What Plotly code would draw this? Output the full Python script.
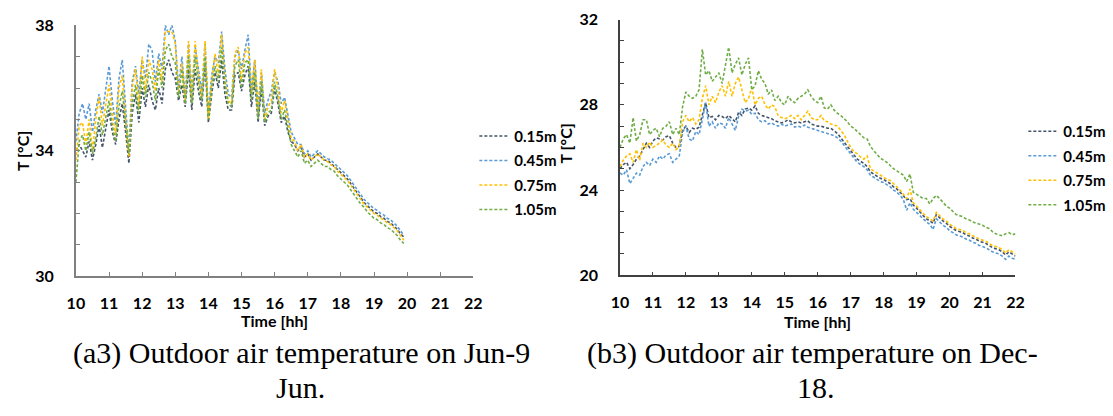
import numpy as np
import plotly.graph_objects as go

W, H = 1113, 416

# ---------------- data ----------------
heights = ["0.15m", "0.45m", "0.75m", "1.05m"]
colors = ["#44546A", "#5B9BD5", "#FFC000", "#70AD47"]

time_a = np.round(10 + 0.1 * np.arange(100), 1)   # 10.0 .. 19.9 h
time_b = np.round(10 + 0.1 * np.arange(121), 1)   # 10.0 .. 22.0 h

# (a3) June
t015_a = [34.0, 34.2, 34.0, 33.8, 34.3, 33.7, 34.2, 34.8, 34.1, 34.7,
          35.3, 34.6, 34.2, 35.0, 35.5, 34.6, 33.6, 35.2, 35.8, 34.9,
          36.0, 35.4, 36.1, 35.6, 35.3, 36.0, 35.5, 36.6, 36.9, 36.5,
          36.3, 35.6, 36.1, 35.4, 36.6, 35.3, 36.6, 35.9, 35.4, 36.8,
          34.9, 35.8, 36.5, 36.0, 36.9, 35.8, 35.3, 35.3, 36.4, 36.5,
          35.9, 36.4, 36.7, 35.4, 36.2, 34.9, 36.0, 34.8, 35.1, 35.2,
          36.0, 35.5, 34.9, 35.1, 34.6, 34.3, 34.2, 34.0, 34.1, 33.8,
          33.9, 33.7, 33.8, 33.9, 33.8, 33.7, 33.7, 33.6, 33.5, 33.4,
          33.3, 33.2, 33.1, 32.95, 32.8, 32.65, 32.5, 32.35, 32.25, 32.15,
          32.05, 32.0, 31.9, 31.85, 31.75, 31.7, 31.6, 31.5, 31.35, 31.25]
t045_a = [34.3, 35.2, 35.5, 35.0, 35.5, 34.6, 35.3, 35.8, 35.2, 35.9,
          36.7, 35.6, 34.8, 36.3, 36.9, 35.4, 34.0, 36.2, 36.7, 35.8,
          36.9, 36.3, 37.4, 37.2, 36.2, 37.1, 36.6, 38.0, 37.7, 38.0,
          37.5, 36.0, 37.0, 35.7, 37.4, 35.9, 37.3, 36.6, 35.9, 37.4,
          35.2, 36.4, 37.0, 36.8, 37.8, 36.6, 35.8, 35.7, 37.0, 37.2,
          36.6, 37.2, 37.7, 35.9, 36.9, 35.4, 36.5, 35.2, 35.6, 35.9,
          36.5, 36.2, 35.5, 35.7, 35.1, 34.6, 34.4, 34.2, 34.2, 33.9,
          34.0, 33.8, 33.9, 34.0, 33.9, 33.8, 33.75, 33.7, 33.6, 33.5,
          33.4, 33.3, 33.2, 33.05, 32.9, 32.75, 32.6, 32.45, 32.35, 32.25,
          32.15, 32.1, 32.0, 31.95, 31.85, 31.8, 31.7, 31.6, 31.45, 31.3]
t075_a = [33.7, 34.8, 34.9, 34.2, 35.0, 34.0, 35.0, 35.7, 34.8, 35.5,
          36.1, 35.2, 34.5, 36.0, 36.4, 35.0, 33.8, 36.0, 36.6, 35.4,
          37.0, 35.9, 36.9, 36.6, 35.9, 36.9, 36.2, 37.8, 37.8, 37.8,
          37.4, 35.8, 36.8, 35.6, 37.5, 35.6, 37.5, 36.4, 35.7, 37.5,
          35.0, 36.2, 37.1, 36.4, 37.7, 36.3, 35.6, 35.5, 37.1, 37.3,
          36.2, 37.1, 37.3, 35.8, 36.9, 35.2, 36.6, 35.0, 35.4, 35.6,
          36.6, 36.0, 35.2, 35.6, 35.0, 34.4, 34.3, 34.0, 34.2, 33.8,
          33.9, 33.7, 33.8, 33.9, 33.8, 33.7, 33.65, 33.55, 33.5, 33.35,
          33.25, 33.15, 33.05, 32.9, 32.75, 32.6, 32.45, 32.3, 32.2, 32.1,
          32.0, 31.95, 31.85, 31.8, 31.7, 31.65, 31.55, 31.45, 31.3, 31.15]
t105_a = [33.0, 34.3, 34.5, 34.0, 34.6, 33.9, 34.4, 35.1, 34.5, 35.0,
          35.6, 34.8, 34.3, 35.4, 35.9, 34.9, 33.9, 35.5, 36.1, 35.2,
          36.4, 35.7, 36.5, 36.2, 35.6, 36.6, 36.0, 37.2, 37.4, 37.0,
          36.8, 35.7, 36.6, 35.5, 37.0, 35.5, 37.0, 36.2, 35.6, 37.0,
          35.0, 36.0, 36.7, 36.2, 37.3, 36.1, 35.5, 35.4, 36.7, 36.9,
          36.0, 36.8, 36.9, 35.6, 36.5, 35.0, 36.2, 34.9, 35.2, 35.3,
          36.2, 35.7, 35.0, 35.3, 34.7, 34.2, 34.0, 33.8, 34.0, 33.6,
          33.7, 33.5, 33.6, 33.7, 33.6, 33.5, 33.5, 33.4, 33.35, 33.2,
          33.1, 33.0, 32.9, 32.75, 32.6, 32.45, 32.3, 32.2, 32.05, 31.95,
          31.85, 31.8, 31.7, 31.65, 31.55, 31.5, 31.4, 31.3, 31.15, 31.05]

# (b3) December
t015_b = [25.0, 25.2, 25.3, 25.0, 25.2, 25.45, 25.6, 25.9, 26.2, 26.0,
          26.3, 26.45, 26.4, 26.35, 26.5, 26.55, 26.2, 26.0, 26.05, 26.8,
          27.0, 26.7, 26.9, 26.85, 26.95, 27.6, 28.1, 27.4, 27.45, 27.3,
          27.5, 27.45, 27.35, 27.5, 27.35, 27.2, 27.65, 27.5, 27.8, 27.85,
          27.75, 27.95, 27.6, 27.5, 27.45, 27.4, 27.35, 27.25, 27.2, 27.15,
          27.2, 27.3, 27.2, 27.15, 27.2, 27.15, 27.2, 27.25, 27.1, 27.05,
          27.0, 27.0, 26.95, 26.9, 26.9, 26.75, 26.65, 26.45, 26.25, 26.05,
          25.8, 25.6, 25.45, 25.35, 25.25, 25.1, 24.85, 24.75, 24.65, 24.55,
          24.5, 24.4, 24.3, 24.15, 24.05, 23.9, 23.7, 23.55, 23.6, 23.3,
          23.15, 22.95, 22.8, 22.65, 22.55, 22.45, 22.85, 22.7, 22.55, 22.45,
          22.3, 22.2, 22.1, 22.05, 22.0, 21.9, 21.85, 21.75, 21.7, 21.6,
          21.55, 21.5, 21.4, 21.3, 21.25, 21.2, 21.1, 20.95, 21.1, 21.0,
          20.9]
t045_b = [24.8, 24.7, 24.95, 24.3, 24.55, 24.8, 24.7, 25.1, 25.3, 25.15,
          25.45, 25.3, 25.6, 25.45, 25.65, 25.7, 25.3, 25.45, 25.6, 26.7,
          27.0, 26.4, 26.3, 26.75, 26.6, 27.3, 28.1, 27.0, 27.2, 26.9,
          27.15, 27.1, 26.9, 27.4, 27.1, 26.8, 27.45, 27.8, 27.7, 27.75,
          27.55, 27.6, 27.3, 27.2, 27.25, 27.1, 27.15, 27.05, 27.0, 27.1,
          27.0, 27.05, 27.1, 26.95, 27.0, 26.95, 27.05, 26.95, 26.9, 26.85,
          26.8, 26.75, 26.7, 26.65, 26.6, 26.55, 26.45, 26.3, 26.1, 25.9,
          25.65, 25.45, 25.3, 25.2, 25.1, 24.95, 24.7, 24.6, 24.5, 24.4,
          24.35, 24.25, 24.15, 24.0, 23.9, 23.75, 23.55, 23.05, 23.4, 23.1,
          22.95, 22.8, 22.65, 22.5, 22.4, 22.15, 22.65, 22.5, 22.35, 22.25,
          22.1, 22.0, 21.9, 21.85, 21.8, 21.7, 21.65, 21.55, 21.5, 21.4,
          21.35, 21.3, 21.2, 21.1, 21.05, 21.0, 20.9, 20.75, 20.9, 20.8,
          20.75]
t075_b = [25.1, 25.4, 25.6, 25.7, 25.3, 25.9, 25.4, 26.2, 26.0, 26.25,
          26.0, 26.1, 26.2, 26.35, 26.1, 26.0, 26.2, 25.9, 26.05, 27.2,
          27.5, 27.2, 27.4, 27.1, 27.3, 28.3, 28.9, 28.0, 28.4, 28.1,
          28.6, 28.9, 28.4, 29.1, 28.4, 29.0, 29.3, 28.7, 28.1, 28.3,
          28.8, 28.0, 28.3, 28.4, 28.0, 27.8, 28.0, 27.9, 27.5, 27.4,
          27.35, 27.4, 27.5, 27.35, 27.5, 27.3, 27.5, 27.7, 27.4, 27.3,
          27.3, 27.5, 27.25, 27.2, 27.1, 27.05, 27.0, 26.8, 26.6, 26.3,
          26.0, 25.8, 25.7, 25.55, 25.45, 25.6, 25.0, 24.9, 24.8, 24.7,
          24.6, 24.5, 24.45, 24.3, 24.15, 24.0, 23.8, 23.6, 24.05, 23.4,
          23.25, 23.05, 22.9, 22.75, 22.65, 22.55, 22.95, 22.8, 22.65, 22.55,
          22.4, 22.3, 22.2, 22.15, 22.1, 22.0, 21.95, 21.85, 21.8, 21.7,
          21.65, 21.6, 21.5, 21.4, 21.35, 21.3, 21.2, 21.05, 21.2, 21.1,
          21.0]
t105_b = [26.0, 26.4, 26.6, 26.2, 27.4, 26.3, 26.6, 27.3, 27.3, 26.6,
          26.8, 26.9, 26.5, 26.9, 27.0, 27.2, 26.6, 26.9, 26.6, 27.9,
          28.6, 28.4, 28.3, 28.4, 28.7, 30.6, 29.4, 29.6, 29.1, 29.3,
          29.5, 29.0, 29.8, 30.7, 29.5, 29.9, 30.2, 29.4, 29.9, 30.2,
          28.7, 28.9, 29.6, 29.2, 29.0, 28.5, 28.7, 28.2, 28.4, 28.1,
          28.0, 28.4, 28.2, 28.1, 28.3, 28.4, 28.5, 28.7, 28.4, 28.2,
          28.1, 28.4, 27.85, 27.8, 28.0, 27.75, 27.6, 27.5, 27.35, 27.2,
          27.0, 26.9, 26.75, 26.6, 26.45, 26.4, 26.05, 25.85, 25.65, 25.5,
          25.4, 25.3, 25.15, 25.0, 24.9, 24.8, 24.7, 24.4, 24.75, 23.9,
          23.8, 23.7, 23.6, 23.6, 23.35, 23.6, 23.75, 23.6, 23.4, 23.25,
          23.15, 23.0, 22.85, 22.8, 22.75, 22.65, 22.6, 22.5, 22.45, 22.4,
          22.35, 22.25, 22.2, 22.05, 21.95, 21.9, 21.85, 21.95, 22.0, 21.9,
          21.95]

x_ticks = list(range(10, 23))
y_ticks_a = list(range(30, 39))
y_labels_a = ["30", "", "", "", "34", "", "", "", "38"]
y_ticks_b = list(range(20, 33))
y_labels_b = ["20", "", "", "", "24", "", "", "", "28", "", "", "", "32"]

caption_a = ["(a3) Outdoor air temperature on Jun-9", "Jun."]
caption_b = ["(b3) Outdoor air temperature on Dec-", "18."]

# ---------------- figure ----------------
def px(x):
    return x / W

def py(y):
    return 1 - y / H

fig = go.Figure()
series_a = [t015_a, t045_a, t075_a, t105_a]
series_b = [t015_b, t045_b, t075_b, t105_b]
for i, (name, col) in enumerate(zip(heights, colors)):
    fig.add_trace(go.Scatter(x=time_a, y=series_a[i], name=name, mode="lines",
                             line=dict(color=col, width=1.6, dash="3px,2px"),
                             xaxis="x", yaxis="y", legend="legend",
                             legendgroup="a" + name))
for i, (name, col) in enumerate(zip(heights, colors)):
    fig.add_trace(go.Scatter(x=time_b, y=series_b[i], name=name, mode="lines",
                             line=dict(color=col, width=1.6, dash="3px,2px"),
                             xaxis="x2", yaxis="y2", legend="legend2",
                             legendgroup="b" + name))

tickfont = dict(family="Lato", size=16, color="#000000", weight="bold")

def xaxis(domain, anchor, col):
    return dict(domain=domain, anchor=anchor, range=[10, 22], tickvals=x_ticks,
                showgrid=False, zeroline=False, showline=True, linecolor=col,
                linewidth=1.6, ticks="inside", ticklen=4, tickcolor=col, tickwidth=1.4,
                tickfont=tickfont, ticklabelstandoff=12, fixedrange=True)

def yaxis(domain, anchor, col, rng, tv, tt):
    return dict(domain=domain, anchor=anchor, range=rng, tickvals=tv, ticktext=tt,
                showgrid=False, zeroline=False, showline=True, linecolor=col,
                linewidth=1.6, ticks="inside", ticklen=4, tickcolor=col, tickwidth=1.4,
                tickfont=tickfont, ticklabelstandoff=17, fixedrange=True)

legfont = dict(family="Lato", size=15, color="#000000", weight="bold")

fig.update_layout(
    width=W, height=H,
    margin=dict(l=0, r=0, t=0, b=0),
    paper_bgcolor="white", plot_bgcolor="white",
    xaxis=xaxis([px(68), px(472)], "y", "#808080"),
    yaxis=yaxis([py(279), py(16)], "x", "#808080", [30, 38], y_ticks_a, y_labels_a),
    xaxis2=xaxis([px(621), px(1023)], "y2", "#404040"),
    yaxis2=yaxis([py(278), py(10)], "x2", "#404040", [20, 32], y_ticks_b, y_labels_b),
    legend=dict(x=px(473), y=py(115), xanchor="left", yanchor="top",
                bgcolor="rgba(0,0,0,0)", font=legfont, itemwidth=30,
                tracegroupgap=2),
    legend2=dict(x=px(1031), y=py(110), xanchor="left", yanchor="top",
                 bgcolor="rgba(0,0,0,0)", font=legfont, itemwidth=30,
                 tracegroupgap=2),
    showlegend=True,
)

ann = []
titlefont = dict(family="Lato", size=16, color="#000000", weight="bold")
common = dict(showarrow=False, xref="paper", yref="paper",
              xanchor="center", yanchor="middle")
ann.append(dict(x=px(13), y=py(148), text="T [°C]", textangle=-90, font=titlefont, **common))
ann.append(dict(x=px(566), y=py(140), text="T [°C]", textangle=-90, font=titlefont, **common))
ann.append(dict(x=px(270), y=py(325), text="Time [hh]", font=titlefont, **common))
ann.append(dict(x=px(822), y=py(326), text="Time [hh]", font=titlefont, **common))
capfont = dict(family="Liberation Serif", size=30, color="#000000")
ann.append(dict(x=px(297), y=py(359), text=caption_a[0], font=capfont, **common))
ann.append(dict(x=px(296), y=py(396), text=caption_a[1], font=capfont, **common))
ann.append(dict(x=px(817), y=py(359), text=caption_b[0], font=capfont, **common))
ann.append(dict(x=px(820), y=py(396), text=caption_b[1], font=capfont, **common))
fig.update_layout(annotations=ann)

fig.write_html("out.html", config={"displayModeBar": False})
